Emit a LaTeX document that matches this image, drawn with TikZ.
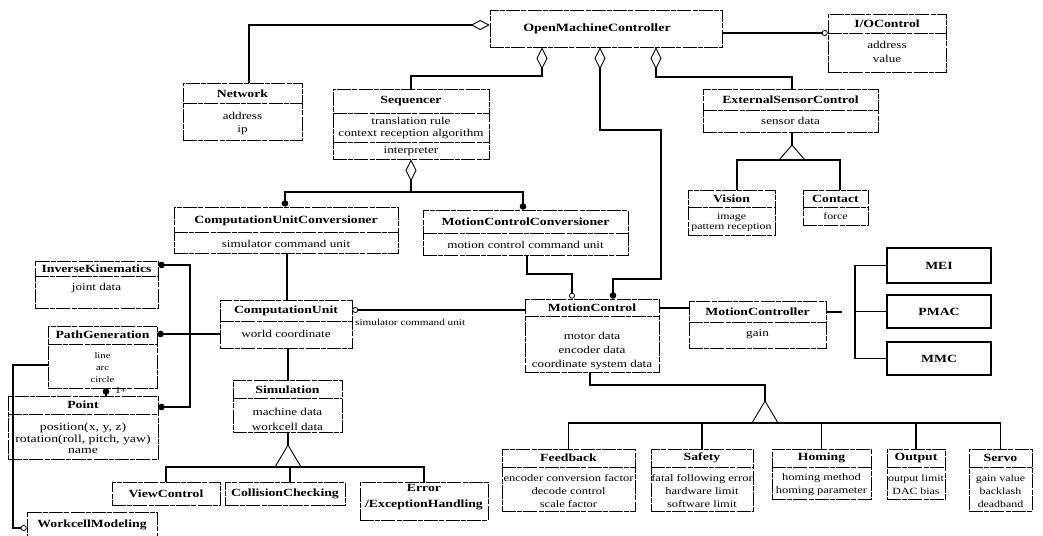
\documentclass[tikz,border=0pt]{standalone}
\usepackage{fontspec}
\setmainfont[FakeStretch=1.25]{Liberation Serif}
\usetikzlibrary{fit,arrows.meta}
\newcommand\uclass[5]{\node[cls, fit={(#2,#3) (#4,#5)}] (#1) {};}
\tikzset{
  agg/.tip={Diamond[open,length=22pt,width=11pt,line width=0.9pt]},
  aggh/.tip={Diamond[open,length=19pt,width=10pt,line width=0.9pt]},
  fdot/.tip={Circle[length=6.5pt]},
  odot/.tip={Circle[open,length=6pt,line width=0.8pt]},
}
\begin{document}
\begin{tikzpicture}[x=1pt,y=-1pt,
  cls/.style={draw, line width=0.6pt, inner sep=0pt, dash pattern=on 14pt off 1.2pt on 5pt off 1.2pt},
  sbox/.style={draw, line width=1.3pt, inner sep=0pt},
  sepl/.style={line width=0.6pt, dash pattern=on 14pt off 1.2pt on 5pt off 1.2pt},
  ttl/.style={font=\fontsize{11}{13}\selectfont\bfseries, inner sep=0pt},
  att/.style={font=\fontsize{10.5}{14}\selectfont, align=center, inner sep=0pt},
  small/.style={font=\fontsize{10}{13}\selectfont, align=center, inner sep=0pt},
  conn/.style={line width=1.5pt},
  tri/.style={line width=0.9pt, fill=white},
]
\fill[white] (0,0) rectangle (1043,535);
\useasboundingbox (0,0) rectangle (1043,535);

% ---------- classes ----------
\uclass{omc}{490}{10}{722}{47}
\node[ttl, font=\fontsize{11.2}{13}\selectfont\bfseries] (omc-t) at (597,29) {OpenMachineController};

\uclass{io}{828}{14}{946}{72}
\draw[sepl] (828,33) -- (946,33);
\node[ttl] (io-t) at (887,23.5) {I/OControl};
\node[att] (io-a) at (887,52) {address\\value};

\uclass{net}{183}{83}{302}{140}
\draw[sepl] (183,103.5) -- (302,103.5);
\node[ttl] (net-t) at (242.5,93.5) {Network};
\node[att, font=\fontsize{10.5}{13}\selectfont] (net-a) at (242.5,123) {address\\ip};

\uclass{seq}{333}{89}{489}{159}
\draw[sepl] (333,113) -- (489,113);
\draw[sepl] (333,142) -- (489,142);
\node[ttl] (seq-t) at (411,101.5) {Sequencer};
\node[att, font=\fontsize{10.5}{12}\selectfont] (seq-a) at (411,128) {translation rule\\context reception algorithm};
\node[att] (seq-b) at (411,151) {interpreter};

\uclass{esc}{703}{89}{878}{132}
\draw[sepl] (703,110) -- (878,110);
\node[ttl] (esc-t) at (790.5,99.5) {ExternalSensorControl};
\node[att] (esc-a) at (790.5,121) {sensor data};

\uclass{vis}{688}{190}{775}{235}
\draw[sepl] (688,207) -- (775,207);
\node[ttl] (vis-t) at (731.5,198.5) {Vision};
\node[att, font=\fontsize{9.5}{10.5}\selectfont] (vis-a) at (731.5,222.5) {image\\pattern reception};

\uclass{con}{803}{190}{868}{225}
\draw[sepl] (803,207) -- (868,207);
\node[ttl] (con-t) at (835.5,198.5) {Contact};
\node[att, font=\fontsize{9.5}{10.5}\selectfont] (con-a) at (835.5,216) {force};

\uclass{cuc}{174}{207}{398}{253}
\draw[sepl] (174,232) -- (398,232);
\node[ttl] (cuc-t) at (286,221) {ComputationUnitConversioner};
\node[att] (cuc-a) at (286,244) {simulator command unit};

\uclass{mcc}{423}{210}{628}{255}
\draw[sepl] (423,233) -- (628,233);
\node[ttl] (mcc-t) at (525.5,222) {MotionControlConversioner};
\node[att] (mcc-a) at (525.5,244.5) {motion control command unit};

\uclass{ik}{35}{261}{158}{308}
\draw[sepl] (35,276) -- (158,276);
\node[ttl] (ik-t) at (96.5,268.5) {InverseKinematics};
\node[att] (ik-a) at (96.5,288) {joint data};

\uclass{cu}{220}{300}{352}{348}
\draw[sepl] (220,321) -- (352,321);
\node[ttl] (cu-t) at (286,310.5) {ComputationUnit};
\node[att] (cu-a) at (286,334) {world coordinate};

\uclass{mc}{525}{299}{659}{372}
\draw[sepl] (525,316) -- (659,316);
\node[ttl] (mc-t) at (592,307.5) {MotionControl};
\node[att] (mc-a) at (592,351) {motor data\\encoder data\\coordinate system data};

\uclass{mctl}{689}{301}{826}{348}
\draw[sepl] (689,322) -- (826,322);
\node[ttl] (mctl-t) at (757.5,311.5) {MotionController};
\node[att] (mctl-a) at (757.5,334) {gain};

\node[sbox, fit={(887,248) (991,283)}] (mei) {};
\node[ttl] (mei-t) at (mei.center) {MEI};
\node[sbox, fit={(887,295) (991,328)}] (pmac) {};
\node[ttl] (pmac-t) at (pmac.center) {PMAC};
\node[sbox, fit={(887,342) (991,375)}] (mmc) {};
\node[ttl] (mmc-t) at (mmc.center) {MMC};

\uclass{pg}{48}{326}{157}{388}
\draw[sepl] (48,344) -- (157,344);
\node[ttl] (pg-t) at (102.5,335) {PathGeneration};
\node[att, font=\fontsize{8.5}{12}\selectfont] (pg-a) at (102.5,368) {line\\arc\\circle};

\uclass{pt}{8}{396}{158}{459}
\draw[sepl] (8,414) -- (158,414);
\node[ttl] (pt-t) at (83,405) {Point};
\node[att, font=\fontsize{11}{11.5}\selectfont] (pt-a) at (83,438.5) {position(x, y, z)\\rotation(roll, pitch, yaw)\\name};

\uclass{sim}{233}{380}{342}{432}
\draw[sepl] (233,398) -- (342,398);
\node[ttl] (sim-t) at (287.5,389.5) {Simulation};
\node[att, font=\fontsize{10.5}{15}\selectfont] (sim-a) at (287.5,419.5) {machine data\\workcell data};

\uclass{vc}{112}{482}{220}{505}
\node[ttl] (vc-t) at (vc.center) {ViewControl};
\uclass{cc}{225}{482}{345}{505}
\node[ttl] (cc-t) at (cc.center) {CollisionChecking};
\uclass{err}{360}{482}{488}{520}
\node[ttl, align=center, font=\fontsize{11}{16}\selectfont\bfseries] (err-t) at (424,497) {Error\\/ExceptionHandling};

\uclass{wm}{27}{512}{157}{545}
\node[ttl] (wm-t) at (92,525) {WorkcellModeling};

\uclass{fb}{502}{449}{635}{511}
\draw[sepl] (502,467) -- (635,467);
\node[ttl] (fb-t) at (568.5,458) {Feedback};
\node[small] (fb-a) at (568.5,491) {encoder conversion factor\\decode control\\scale factor};

\uclass{saf}{651}{449}{753}{511}
\draw[sepl] (651,467) -- (753,467);
\node[ttl] (saf-t) at (702,458) {Safety};
\node[small] (saf-a) at (702,491) {fatal following error\\hardware limit\\software limit};

\uclass{hom}{772}{449}{871}{499}
\draw[sepl] (772,467) -- (871,467);
\node[ttl] (hom-t) at (821.5,458) {Homing};
\node[small] (hom-a) at (821.5,484.5) {homing method\\homing parameter};

\uclass{out}{887}{449}{945}{499}
\draw[sepl] (887,467) -- (945,467);
\node[ttl] (out-t) at (916,458) {Output};
\node[small, font=\fontsize{9.5}{13}\selectfont] (out-a) at (916,484.5) {output limit\\DAC bias};

\uclass{srv}{969}{449}{1032}{511}
\draw[sepl] (969,467) -- (1032,467);
\node[ttl] (srv-t) at (1000.5,458) {Servo};
\node[small, font=\fontsize{9.5}{13}\selectfont] (srv-a) at (1000.5,491) {gain value\\backlash\\deadband};

% ---------- connectors ----------
\draw[conn, {aggh}-] (omc.west |- 0,25) -- (249,25) -- (net.north -| 249,0);
\draw[conn, {agg}-] (omc.south -| 542,0) -- (542,76) -- (411,76) -- (seq.north -| 411,0);
\draw[conn, {agg}-{fdot}] (omc.south -| 600,0) -- (600,130) -- (661,130) -- (661,279) -- (613,279) -- (mc.north -| 613,0);
\draw[conn, {agg}-] (omc.south -| 656,0) -- (656,77) -- (792,77) -- (esc.north -| 792,0);
\draw[conn, -{odot}] (omc.east |- 0,33) -- (io.west |- 0,33);

\draw[conn, {agg}-] (seq.south -| 411,0) -- (411,192);
\draw[conn, {fdot}-{fdot}] (cuc.north -| 285,0) -- (285,192) -- (523,192) -- (mcc.north -| 523,0);
\draw[conn, -{odot}] (mcc.south -| 527,0) -- (527,274) -- (572,274) -- (mc.north -| 572,0);

\draw[conn] (esc.south -| 792,0) -- (792,145);
\draw[tri] (792,145) -- (805,160) -- (779,160) -- cycle;
\draw[conn] (vis.north -| 737,0) -- (737,160) -- (840,160) -- (con.north -| 840,0);

\draw[conn] (cuc.south -| 287,0) -- (cu.north -| 287,0);
\draw[conn, {odot}-] (cu.east |- 0,310) -- (mc.west |- 0,310);
\node[att, font=\fontsize{9}{11}\selectfont, anchor=west] (lbl-scu) at (355,322) {simulator command unit};

\draw[conn, -{fdot}] (cu.west |- 0,334) -- (pg.east |- 0,334);
\draw[conn, {fdot}-{fdot}] (ik.east |- 0,265) -- (190,265) -- (190,407) -- (pt.east |- 0,407);
\draw[conn, {fdot}-] (pg.south -| 106,0) -- (pt.north -| 106,0);
\node[att, font=\fontsize{9}{11}\selectfont] (lbl-1) at (121,391) {1+};
\draw[conn, -{odot}] (pg.west |- 0,365) -- (13,365) -- (13,528) -- (wm.west |- 0,528);

\draw[conn] (cu.south -| 288,0) -- (sim.north -| 288,0);
\draw[conn] (sim.south -| 288,0) -- (288,445);
\draw[tri] (288,445) -- (301,467) -- (275,467) -- cycle;
\draw[conn] (vc.north) -- (166,467) -- (424,467) -- (err.north -| 424,0);
\draw[conn] (290,467) -- (cc.north -| 290,0);

\draw[conn] (mc.south -| 590,0) -- (590,385) -- (765,385) -- (765,401);
\draw[tri] (765,401) -- (778,423) -- (752,423) -- cycle;
\draw[conn] (fb.north) -- (568.5,423) -- (1000.5,423) -- (srv.north);
\draw[conn] (702,423) -- (saf.north);
\draw[conn] (821.5,423) -- (hom.north);
\draw[conn] (916,423) -- (out.north);

\draw[conn] (mc.east |- 0,308) -- (mctl.west |- 0,308);
\coordinate (stub) at (842,312);
\draw[conn] (mctl.east |- 0,312) -- (stub);
\draw[conn] (mei.west) -- (855,265.5) -- (855,358.5) -- (mmc.west);
\draw[conn] (855,311.5) -- (pmac.west);
\end{tikzpicture}
\end{document}
